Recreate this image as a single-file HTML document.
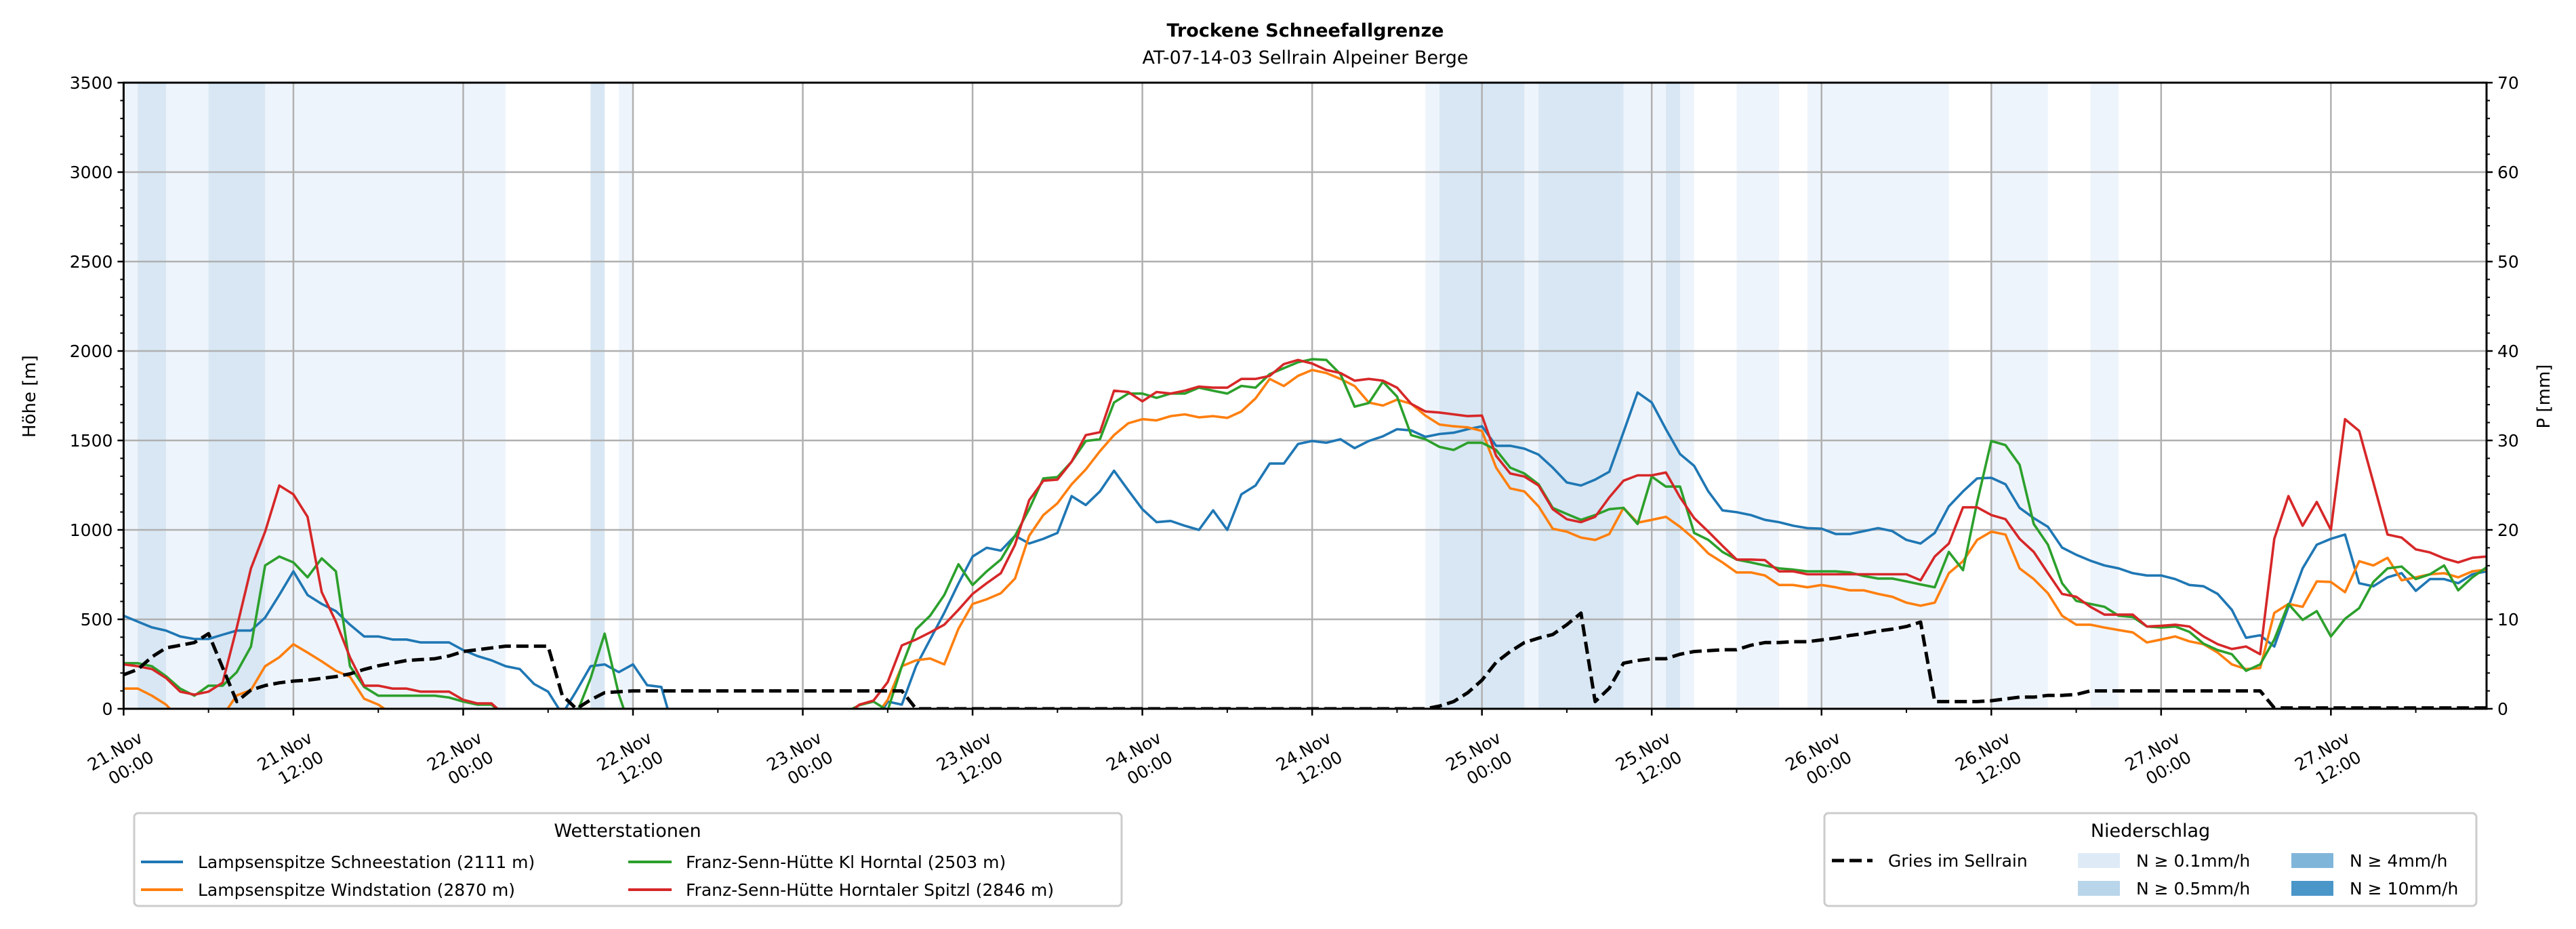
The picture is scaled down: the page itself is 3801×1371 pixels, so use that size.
<!DOCTYPE html>
<html><head><meta charset="utf-8">
<style>
html,body{margin:0;padding:0;background:#fff;}
svg{display:block;font-family:"DejaVu Sans","Liberation Sans",sans-serif;}
</style></head>
<body>
<svg id="chart" width="3801" height="1371" viewBox="0 0 3801 1371" xmlns="http://www.w3.org/2000/svg">
<defs><clipPath id="plotclip"><rect x="182.4" y="122" width="3486.6" height="924"/></clipPath></defs>
<text x="1926" y="54" text-anchor="middle" font-size="27" font-weight="bold">Trockene Schneefallgrenze</text>
<text x="1926" y="94" text-anchor="middle" font-size="27">AT-07-14-03 Sellrain Alpeiner Berge</text>
<g id="bands" clip-path="url(#plotclip)"></g>
<g id="grid"></g>
<g id="series" clip-path="url(#plotclip)"></g>
<g id="axes"></g>
<text transform="translate(52,585) rotate(-90)" text-anchor="middle" font-size="26">Höhe [m]</text>
<text transform="translate(3762,585) rotate(-90)" text-anchor="middle" font-size="26">P [mm]</text>

<g>
<rect x="198" y="1200" width="1457" height="137" rx="6" fill="#fff" stroke="#cccccc" stroke-width="3"/>
<text x="926" y="1235" text-anchor="middle" font-size="27">Wetterstationen</text>
<g><line x1="208" y1="1272" x2="270" y2="1272" stroke="#1f77b4" stroke-width="4"/><text x="292" y="1281" font-size="25">Lampsenspitze Schneestation (2111 m)</text></g>
<g><line x1="208" y1="1313" x2="270" y2="1313" stroke="#ff7f0e" stroke-width="4"/><text x="292" y="1322" font-size="25">Lampsenspitze Windstation (2870 m)</text></g>
<g><line x1="927" y1="1272" x2="991" y2="1272" stroke="#2ca02c" stroke-width="4"/><text x="1012" y="1281" font-size="25">Franz-Senn-Hütte Kl Horntal (2503 m)</text></g>
<g><line x1="927" y1="1313" x2="991" y2="1313" stroke="#d62728" stroke-width="4"/><text x="1012" y="1322" font-size="25">Franz-Senn-Hütte Horntaler Spitzl (2846 m)</text></g>
</g>

<g>
<rect x="2692" y="1200" width="962" height="137" rx="6" fill="#fff" stroke="#cccccc" stroke-width="3"/>
<text x="3173" y="1235" text-anchor="middle" font-size="27">Niederschlag</text>
<g><line x1="2703" y1="1270" x2="2763" y2="1270" stroke="#000" stroke-width="5" stroke-dasharray="18,8"/><text x="2786" y="1279" font-size="25">Gries im Sellrain</text></g>
<g><rect x="3066" y="1259" width="62" height="22" fill="#deebf7"/><text x="3152" y="1279" font-size="25">N ≥ 0.1mm/h</text></g>
<g><rect x="3066" y="1300" width="62" height="22" fill="#b9d5ea"/><text x="3152" y="1320" font-size="25">N ≥ 0.5mm/h</text></g>
<g><rect x="3381" y="1259" width="62" height="22" fill="#80b5da"/><text x="3467" y="1279" font-size="25">N ≥ 4mm/h</text></g>
<g><rect x="3381" y="1300" width="62" height="22" fill="#4a96c9"/><text x="3467" y="1320" font-size="25">N ≥ 10mm/h</text></g>
</g>
</svg>
<script>
// ---- data (hourly, hour 0 = 21.Nov 00:00) ----
const xTickLabels1 = ["21.Nov","21.Nov","22.Nov","22.Nov","23.Nov","23.Nov","24.Nov","24.Nov","25.Nov","25.Nov","26.Nov","26.Nov","27.Nov","27.Nov"];
const xTickLabels2 = ["00:00","12:00","00:00","12:00","00:00","12:00","00:00","12:00","00:00","12:00","00:00","12:00","00:00","12:00"];
const yTicks = [0,500,1000,1500,2000,2500,3000,3500];
const y2Ticks = [0,10,20,30,40,50,60,70];
const N = null;
const schneestation = [
520,487,455,437,404,390,390,414,437,437,
510,636,768,636,586,546,470,404,404,387,
387,371,371,371,328,295,271,238,222,139,
96,-30,100,238,248,205,248,132,122,-150,
N,N,N,N,N,N,N,N,N,N,
N,N,N,-100,40,23,238,387,536,700,
851,900,884,967,924,950,983,1189,1139,1215,
1331,1222,1116,1043,1050,1023,1000,1109,1000,1199,
1248,1371,1371,1480,1497,1487,1507,1457,1497,1523,
1563,1556,1520,1536,1543,1563,1579,1470,1470,1454,
1421,1348,1265,1248,1281,1325,1546,1768,1712,1563,
1424,1358,1215,1109,1099,1083,1056,1043,1023,1010,
1007,977,977,993,1010,993,944,924,983,1132,
1215,1288,1291,1255,1123,1066,1017,901,861,828,
801,785,758,745,745,725,692,685,642,553,
397,411,348,570,785,917,950,974,702,685,
735,758,659,725,725,702,752,768];
const windstation = [
113,113,73,23,-60,N,N,-40,75,105,
238,288,361,314,265,212,179,56,23,-30,
N,N,N,N,N,N,N,N,N,N,
N,N,N,N,N,N,N,N,N,N,
N,N,N,N,N,N,N,N,N,N,
N,N,N,-60,50,238,271,281,248,447,
586,612,646,728,967,1083,1149,1255,1338,1440,
1530,1596,1619,1612,1636,1646,1629,1636,1626,1662,
1735,1844,1804,1861,1894,1877,1844,1804,1712,1695,
1728,1705,1639,1589,1579,1573,1553,1348,1232,1215,
1132,1007,990,957,944,977,1123,1040,1056,1073,
1017,950,868,818,762,762,745,692,692,679,
692,679,662,662,642,626,593,576,593,758,
825,944,990,974,785,725,646,520,470,470,
454,440,427,371,387,404,377,361,314,248,
222,228,536,586,570,712,709,652,825,801,
844,718,735,752,758,735,768,778];
const klHorntal = [
255,255,238,182,113,73,129,129,205,348,
801,851,818,735,841,768,238,122,73,73,
73,73,73,63,40,23,23,-40,N,N,
N,N,-30,170,420,80,-150,N,N,N,
N,N,N,N,N,N,N,N,N,N,
N,-20,20,40,-10,238,444,520,636,808,
692,768,834,967,1116,1288,1295,1381,1497,1507,
1712,1762,1762,1738,1762,1762,1795,1778,1762,1805,
1795,1871,1904,1937,1954,1950,1871,1689,1709,1828,
1745,1530,1507,1464,1447,1487,1487,1447,1348,1315,
1255,1123,1089,1056,1083,1116,1123,1033,1298,1242,
1242,983,944,877,834,818,801,785,778,768,
768,768,762,742,728,728,712,695,679,877,
775,1156,1497,1474,1364,1033,917,702,603,586,
570,520,513,460,454,460,430,364,328,305,
212,248,387,586,497,546,404,503,563,709,
785,795,725,752,801,662,735,791];
const horntalerSpitzl = [
248,238,222,172,96,79,96,146,454,785,
990,1248,1199,1073,652,487,288,129,129,113,
113,96,96,96,50,30,30,-40,N,N,
N,N,N,N,N,N,N,N,N,N,
N,N,N,N,N,N,N,N,N,N,
N,-40,23,46,149,354,387,427,470,553,
642,702,758,917,1166,1275,1281,1381,1530,1546,
1778,1771,1719,1771,1762,1778,1801,1795,1795,1844,
1844,1861,1927,1950,1930,1894,1877,1834,1844,1834,
1795,1705,1662,1656,1646,1636,1639,1414,1315,1298,
1248,1116,1060,1043,1073,1182,1275,1305,1305,1321,
1182,1066,990,911,834,834,831,768,768,752,
752,752,752,752,752,752,752,718,851,924,
1126,1126,1083,1060,950,877,758,642,626,570,
526,526,526,460,464,470,460,404,361,334,
348,305,950,1189,1023,1156,1000,1619,1553,1265,
974,957,891,874,841,818,844,851];
const griesPrecip = [
3.8,4.4,5.8,6.8,7.1,7.4,8.4,4.6,0.8,2.1,
2.6,2.9,3.1,3.2,3.4,3.6,3.9,4.4,4.8,5.1,
5.4,5.5,5.6,5.9,6.4,6.6,6.8,7.0,7.0,7.0,
7.0,1.5,0,1.0,1.8,1.9,2.0,2.0,2.0,2.0,
2.0,2.0,2.0,2.0,2.0,2.0,2.0,2.0,2.0,2.0,
2.0,2.0,2.0,2.0,2.0,2.0,0,0,0,0,
0,0,0,0,0,0,0,0,0,0,
0,0,0,0,0,0,0,0,0,0,
0,0,0,0,0,0,0,0,0,0,
0,0,0,0.3,0.8,1.8,3.2,5.2,6.4,7.4,
7.9,8.3,9.4,10.7,0.8,2.3,5.1,5.4,5.6,5.6,
6.1,6.4,6.5,6.6,6.6,7.1,7.4,7.4,7.5,7.5,
7.7,7.9,8.2,8.4,8.7,8.9,9.2,9.7,0.8,0.8,
0.8,0.8,0.9,1.1,1.3,1.3,1.5,1.5,1.6,2.0,
2.0,2.0,2.0,2.0,2.0,2.0,2.0,2.0,2.0,2.0,
2.0,2.0,0.1,0.1,0.1,0.1,0.1,0.1,0.1,0.1,
0.1,0.1,0.1,0.1,0.1,0.1,0.1,0.1];
const bandStart = [0,1,6,33,35,92,93,100,109,114,119,132,139];
const bandEnd   = [27,3,10,34,36,111,99,106,110,117,129,136,141];
const bandLevel = [1,2,2,2,1,1,2,2,2,1,1,1,1];

// ---- scales ----
const X0=182.4, X1=3669, Y0=1046, Y1=122, HMAX=167;
const x = h => X0 + h*(X1-X0)/HMAX;
const y = v => Y0 - v*(Y0-Y1)/3500;
const y2 = v => Y0 - v*(Y0-Y1)/70;
const NS="http://www.w3.org/2000/svg";
function mk(tag, attrs, parent){const e=document.createElementNS(NS,tag);for(const k in attrs)e.setAttribute(k,attrs[k]);parent.appendChild(e);return e;}

// bands
const gb=document.getElementById('bands');
[1,2].forEach(level=>{
  bandStart.forEach((s,i)=>{
    if(bandLevel[i]!==level) return;
    const r=mk('rect',{x:x(s),y:Y1,width:x(bandEnd[i])-x(s),height:Y0-Y1,fill:level===1?'#eef4fb':'#d8e7f3'},gb);
    
    
  });
});

// grid
const gg=document.getElementById('grid');
for(let i=0;i<xTickLabels1.length;i++){
  const l=mk('line',{x1:x(i*12),x2:x(i*12),y1:Y1,y2:Y0,stroke:'#b0b0b0','stroke-width':2.5},gg);
  
  
}
yTicks.forEach(v=>{
  const l=mk('line',{x1:X0,x2:X1,y1:y(v),y2:y(v),stroke:'#b0b0b0','stroke-width':2.5},gg);
  
  
});

// series
const gs=document.getElementById('series');
function drawLine(arr, scale, color, width, name, dash){
  let d='', pen=false;
  arr.forEach((v,h)=>{
    if(v===null){pen=false;return;}
    d += (pen?'L':'M') + x(h).toFixed(1)+','+scale(v).toFixed(1);
    pen=true;
  });
  const attrs={d:d,fill:'none',stroke:color,'stroke-width':width,'stroke-linejoin':'round'};
  if(dash) attrs['stroke-dasharray']=dash;
  const p=mk('path',attrs,gs);
  
  
}
drawLine(schneestation,y,'#1f77b4',3.6,'line-schneestation');
drawLine(windstation,y,'#ff7f0e',3.6,'line-windstation');
drawLine(klHorntal,y,'#2ca02c',3.6,'line-kl-horntal');
drawLine(horntalerSpitzl,y,'#d62728',3.6,'line-horntaler-spitzl');
drawLine(griesPrecip,y2,'#000',5,'line-gries-precip','18,8');

// axes
const ga=document.getElementById('axes');
const frame=mk('rect',{x:X0,y:Y1,width:X1-X0,height:Y0-Y1,fill:'none',stroke:'#000','stroke-width':3},ga);


yTicks.forEach(v=>{
  mk('line',{x1:X0-9,x2:X0,y1:y(v),y2:y(v),stroke:'#000','stroke-width':2.5},ga);
  const t=mk('text',{x:X0-16,y:y(v)+9,'text-anchor':'end','font-size':25},ga);
  t.textContent=v;
  
  
});
for(let v=0;v<=3500;v+=100){ if(v%500) mk('line',{x1:X0-5,x2:X0,y1:y(v),y2:y(v),stroke:'#000','stroke-width':2},ga); }
y2Ticks.forEach(v=>{
  mk('line',{x1:X1,x2:X1+9,y1:y2(v),y2:y2(v),stroke:'#000','stroke-width':2.5},ga);
  const t=mk('text',{x:X1+16,y:y2(v)+9,'text-anchor':'start','font-size':25},ga);
  t.textContent=v;
  
  
});
for(let v=0;v<=70;v+=2){ if(v%10) mk('line',{x1:X1,x2:X1+5,y1:y2(v),y2:y2(v),stroke:'#000','stroke-width':2},ga); }
for(let h=0;h<=HMAX;h+=6){
  const major=h%12===0;
  mk('line',{x1:x(h),x2:x(h),y1:Y0,y2:Y0+(major?10:6),stroke:'#000','stroke-width':major?2.5:2},ga);
}
xTickLabels1.forEach((lab,i)=>{
  const tx=x(i*12);
  const g=mk('g',{transform:`translate(${tx+30},1094) rotate(-30)`},ga);
  
  
  const t1=mk('text',{x:0,y:0,'text-anchor':'end','font-size':25},g); t1.textContent=lab;
  const t2=mk('text',{x:0,y:33,'text-anchor':'end','font-size':25},g); t2.textContent=xTickLabels2[i];
});
</script>
</body></html>
